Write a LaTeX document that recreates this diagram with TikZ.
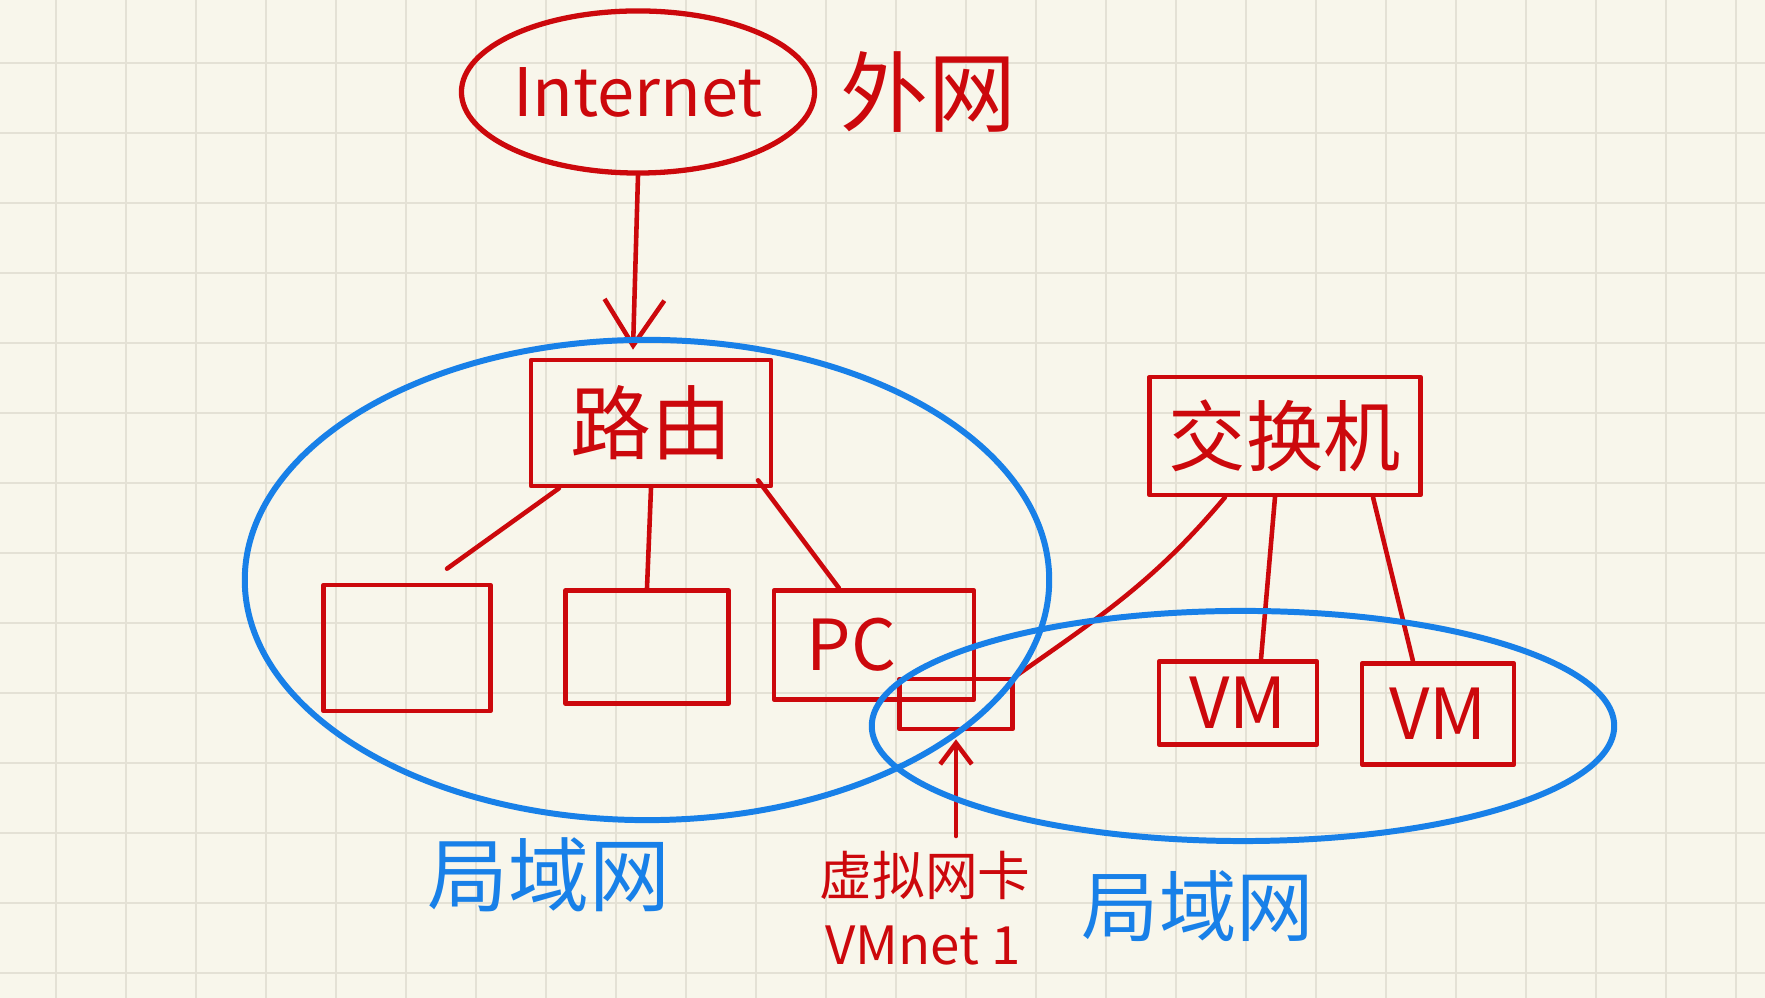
\documentclass[tikz,border=0pt]{standalone}
\usepackage{fontspec}
\setmainfont{Noto Sans CJK SC}
\usetikzlibrary{arrows.meta,shapes.geometric,positioning}
\definecolor{pen}{RGB}{204,8,12}
\definecolor{lanblue}{RGB}{24,128,232}
\definecolor{paper}{RGB}{248,246,235}
\definecolor{gridc}{RGB}{228,225,213}
\newcommand{\fsz}[1]{\fontsize{#1}{#1}\selectfont}

\begin{document}
\begin{tikzpicture}[x=0.01cm,y=-0.01cm,
		box/.style={draw=pen,line width=1.3pt,text=pen,inner sep=0pt,line join=round},
		wire/.style={draw=pen,line width=1.3pt,line cap=round},
		lan/.style={draw=lanblue,line width=1.7pt},
		redtxt/.style={text=pen,inner sep=0pt},
		bluetxt/.style={text=lanblue,inner sep=0pt}]
			\useasboundingbox (0,0) rectangle (1765,998);
			\fill[paper] (0,0) rectangle (1765,998);
			\foreach \x in {56,126,...,1736}
				\draw[gridc,line width=0.75pt] (\x,0) -- (\x,998);
			\foreach \y in {63,133,...,973}
				\draw[gridc,line width=0.75pt] (0,\y) -- (1765,\y);

			\node[box,ellipse,line width=1.5pt,minimum width=3.4cm,minimum height=1.62cm,font=\fsz{19}] (internet) at (638,92) {Internet};
			\node[redtxt,font=\fsz{25}] (waiwang) at (928,92) {外网};

			\node[box,minimum width=2.4cm,minimum height=1.26cm,font=\fsz{23}] (router) at (651,423) {路由};
			\node[box,minimum width=1.67cm,minimum height=1.26cm] (hostA) at (407,648) {};
			\node[box,minimum width=1.63cm,minimum height=1.13cm] (hostB) at (647,647) {};
			\node[box,minimum width=2.0cm,minimum height=1.09cm,font=\fsz{20}] (pc) at (874,645) {PC\hspace*{0.45cm}};
			\node[box,minimum width=1.13cm,minimum height=0.5cm] (nic) at (956,704) {};

			\node[box,minimum width=2.71cm,minimum height=1.18cm,font=\fsz{22}] (switch) at (1285,436) {交换机};
			\node[box,minimum width=1.58cm,minimum height=0.83cm,font=\fsz{20}] (vmA) at (1238,703) {VM};
			\node[box,minimum width=1.52cm,minimum height=1.01cm,font=\fsz{20}] (vmB) at (1438,714) {VM};

			\node[redtxt,font=\fsz{15}] (vnic) at (925,875) {虚拟网卡};
			\node[redtxt,font=\fsz{15}] (vmnet) at (923,946) {VMnet 1};
			\node[bluetxt,font=\fsz{23}] (lanA) at (549,875) {局域网};
			\node[bluetxt,font=\fsz{22}] (lanB) at (1198,906) {局域网};

			\draw[wire,-{Straight Barb[length=13pt,width=17pt]}] (internet.south) -- ([xshift=-0.18cm,yshift=0.08cm]router.north);
			\draw[wire] ([xshift=-0.92cm]router.south) -- ([xshift=0.4cm,yshift=0.14cm]hostA.north);
			\draw[wire] (router.south) -- (hostB.north);
			\draw[wire] ([xshift=1.07cm,yshift=0.08cm]router.south) -- ([xshift=-0.35cm]pc.north);
			\draw[wire] ([xshift=-0.6cm]switch.south) to[out=-130,in=35] (nic.north east);
			\draw[wire] ([xshift=-0.1cm]switch.south) -- ([xshift=0.23cm]vmA.north);
			\draw[wire] ([xshift=0.88cm]switch.south) -- ([xshift=-0.25cm]vmB.north);
			\draw[wire,-{Straight Barb[length=6pt,width=9pt]},shorten >=0.08cm] ([yshift=0.14cm]nic.south |- vnic.north) -- (nic.south);

			\draw[lan] (647,580) ellipse [x radius=4.02cm,y radius=2.4cm];
			\draw[lan] (1243,726) ellipse [x radius=3.71cm,y radius=1.15cm];
		\end{tikzpicture}
\end{document}
